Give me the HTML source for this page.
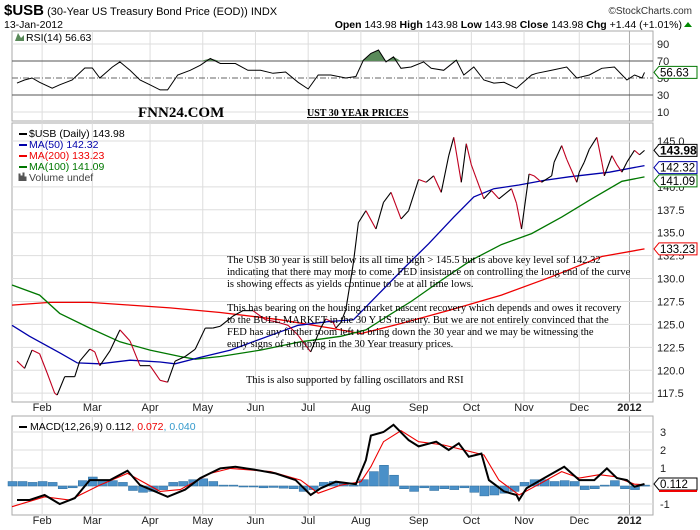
<!DOCTYPE html>
<html><head><meta charset="utf-8"><style>
body{margin:0;background:#fff;width:700px;height:530px;overflow:hidden}
svg{display:block;font-family:"Liberation Sans",sans-serif}
</style></head><body>
<svg id="chart" width="700" height="530">
<g>
<text x="4" y="15" font-size="15" font-weight="bold">$USB<tspan font-size="11" font-weight="normal"> (30-Year US Treasury Bond Price (EOD)) INDX</tspan></text>
<text x="692" y="14" font-size="10" fill="#333" text-anchor="end">©StockCharts.com</text>
<text x="4" y="28" font-size="10.5">13-Jan-2012</text>
<text x="682" y="28" font-size="10.5" text-anchor="end"><tspan font-weight="bold">Open</tspan> 143.98 <tspan font-weight="bold">High</tspan> 143.98 <tspan font-weight="bold">Low</tspan> 143.98 <tspan font-weight="bold">Close</tspan> 143.98 <tspan font-weight="bold">Chg</tspan> +1.44 (+1.01%)</text>
<path d="M684,27 l4,-5 l4,5z" fill="#080"/>
</g>
<g id="grid"></g>
<g id="marks"></g>
<g font-family="'Liberation Serif',serif" fill="#000">
<text x="138" y="117" font-size="15" font-weight="bold">FNN24.COM</text>
<text x="307" y="116" font-size="10" font-weight="bold" text-decoration="underline">UST 30 YEAR PRICES</text>
<g font-size="10.5">
<text x="227" y="263">The USB 30 year is still below its all time high &gt; 145.5 but is above key level sof 142.32</text>
<text x="227" y="275">indicating that there may more to come.  FED insistance on controlling the long end of the curve</text>
<text x="227" y="287">is showing effects as yields continue to be at all time lows.</text>
<text x="227" y="311">This has bearing on the housing market nascent recovery which depends and owes it recovery</text>
<text x="227" y="323">to the BULL MARKET in the 30 Y US treasury. But we are not entirely convinced that the</text>
<text x="227" y="335">FED has any further room left to bring down the 30 year and we may be witnessing the</text>
<text x="227" y="347">early signs of a topping in the 30 Year treasury prices.</text>
<text x="246" y="383">This is also supported by falling oscillators and RSI</text>
</g></g>
</svg>
<script>
const priceIdx=[2,5,8,11,14,17,18,21,25,27,31,33,35,39,43,47,51,55,59,62,65,69,73,77,80,83,88,92,96,101,105,110,114,119,123,125,128,129,131,133,136,138,141,145,148,151,155,158,162,165,168,171,174,176,179,181,183,185,188,191,194,199,201,203,206,208,211,215,216,219,221,225,226,228,230,233,235,236,239,241,243,245,248,250,252];
const priceVal=[121.0,120.2,122.2,121.8,119.7,117.5,117.3,119.3,119.3,121.0,122.3,122.0,120.5,122.1,124.4,123.2,120.5,120.5,118.9,118.7,121.0,121.5,122.3,124.6,124.6,124.8,125.9,126.5,126.5,125.5,125.3,124.9,123.8,122.0,124.6,125.6,125.2,124.6,125.2,126.6,131.7,136.1,137.4,135.4,138.3,139.4,136.5,137.4,140.8,140.5,141.2,139.4,143.4,145.4,140.5,144.7,142.4,140.9,138.7,139.6,138.7,139.8,138.2,135.4,141.4,141.2,140.5,141.2,142.7,144.5,143.0,140.5,141.6,142.7,144.1,145.4,142.7,141.2,143.4,142.4,141.6,142.7,143.98,143.5,143.98];
const ma50Idx=[0,7,19,26,35,47,59,65,75,87,102,114,126,136,146,156,166,176,184,192,202,212,222,238,252];
const ma50Val=[124.9,123.7,121.9,120.8,120.7,121.1,120.9,120.7,121.4,122.2,123.7,124.9,125.3,125.5,128.3,131.1,133.8,136.7,138.9,139.8,140.2,140.7,141.1,141.6,142.32];
const ma100Idx=[0,11,19,31,43,55,67,73,83,99,115,131,141,149,159,171,183,195,207,219,231,243,252];
const ma100Val=[129.3,128.2,126.2,124.6,123.1,122.2,121.5,121.2,121.5,122.2,123.1,123.7,124.4,125.8,127.5,129.8,132.0,133.7,134.9,136.7,138.7,140.6,141.09];
const ma200Idx=[0,15,31,47,63,83,107,127,139,155,175,195,215,235,252];
const ma200Val=[127.1,127.4,127.4,127.1,126.8,126.3,125.5,124.6,124.0,125.1,126.6,128.2,130.2,132.4,133.23];
const rsiIdx=[2,5,8,11,16,19,24,29,32,35,40,43,47,51,55,59,62,66,71,75,79,83,89,94,99,104,109,114,118,122,127,133,137,140,143,146,149,152,155,159,164,167,172,177,180,184,188,192,196,201,207,209,215,221,225,230,235,240,245,248,251,252];
const rsiVal=[44,47.6,50,45,38,42,47.6,61.8,61.8,50,63,69,59,47.6,42,36,36,53.5,59,65,73,67,67,59,59,55.5,57,45,37,53.5,53.5,50,51.8,71,79,83,69,75,61.4,63,69,61.4,59,71,53.5,63,47.6,44,45,38,53.5,55.5,59,63,50,53.5,61.4,63,47.6,53.5,50,56.63];
const macdIdx=[2,7,13,19,25,31,39,46,51,57,62,69,75,83,89,97,105,113,119,123,129,137,141,143,148,152,158,162,169,174,178,182,187,190,196,201,202,205,212,220,226,232,237,241,245,248,252];
const macdVal=[-0.78,-0.78,-0.5,-1,-0.67,0.33,0.33,0.85,0.05,-0.3,-0.6,-0.2,0.44,0.98,1.07,0.9,0.7,0.33,-0.5,-0.13,0.24,0.1,1.44,2.8,3.0,3.4,2.55,2.2,2.46,2.0,2.37,1.63,1.8,0.33,-0.3,-0.5,-0.78,-0.13,0.44,1.07,0.33,0.33,0.98,0.44,0.33,-0.04,0.112];
const sigIdx=[0,13,23,35,46,59,67,79,87,103,115,122,131,139,143,148,155,162,172,180,188,194,202,210,219,226,234,240,248,252];
const sigVal=[-1.15,-0.6,-0.78,0.05,0.7,-0.3,-0.2,0.7,0.98,0.8,0.33,-0.4,0.05,0.24,1.07,2.46,3.07,2.46,2.28,2.0,1.72,0.33,-0.5,0.1,0.8,0.44,0.63,0.52,0.1,0.072];
const histVal=[.25,.25,.2,.25,.2,-.15,-.1,.3,.5,.35,.3,.2,-.25,-.35,-.3,-.2,.2,.25,.35,.4,.25,.05,.05,0,-.05,-.1,-.08,-.12,-.15,-.3,-.2,.2,.25,.15,.05,.35,.8,1.15,.6,-.15,-.3,-.1,-.25,-.15,-.2,-.1,-.35,-.55,-.5,-.4,-.3,.2,.35,.35,.25,.3,.25,-.2,-.15,.05,.3,-.15,-.2,.05];
const monthLabels=["Feb","Mar","Apr","May","Jun","Jul","Aug","Sep","Oct","Nov","Dec","2012"];
const monthIdx=[12,32,55,76,97,118,139,162,183,204,226,246];
const priceTicks=[145.0,140.0,137.5,135.0,132.5,130.0,127.5,125.0,122.5,120.0,117.5];
const rsiTicks=[90,70,50,30,10];
const macdTicks=[3,2,1,-1];

const NS="http://www.w3.org/2000/svg";
const L=12,R=653;
const X=i=>L+i*2.51;
const P={top:123,bot:402},RS={top:31,bot:121},M={top:416,bot:515};
const yP=v=>141+(145-v)*9.17;
const yR=v=>78-(v-50)*0.85;
const yM=v=>486-v*18;
const grid=document.getElementById('grid'),marks=document.getElementById('marks');
function el(tag,at,parent){const e=document.createElementNS(NS,tag);for(const k in at)e.setAttribute(k,at[k]);(parent||marks).appendChild(e);return e;}
function poly(idx,val,y,color,w,name){const pts=idx.map((d,i)=>X(d).toFixed(1)+','+y(val[i]).toFixed(1)).join(' ');const e=el('polyline',{points:pts,fill:'none',stroke:color,'stroke-width':w});

return e;}
// panels
[[RS,'rsi-panel'],[P,'price-panel'],[M,'macd-panel']].forEach(([p,n])=>{
 const r=el('rect',{x:L,y:p.top,width:R-L,height:p.bot-p.top,fill:'#fff',stroke:'#aaa'},grid);
 
 
 monthIdx.forEach((m,i)=>{const l=el('line',{x1:X(m),x2:X(m),y1:p.top,y2:p.bot,stroke:i==11?'#aaa':'#ddd'},grid);
 
 });
});
priceTicks.forEach(t=>{const l=el('line',{x1:L,x2:R,y1:yP(t),y2:yP(t),stroke:'#ddd'},grid);
 
 
 const tx=el('text',{x:657,y:yP(t)+4,'font-size':11,fill:'#222'},grid);tx.textContent=t.toFixed(1);
 
 });
rsiTicks.forEach(t=>{const ref=t==70||t==30;const l=el('line',{x1:L,x2:R,y1:yR(t),y2:yR(t),stroke:ref?'#555':(t==50?'#666':'#ddd'),'stroke-dasharray':t==50?'6,2,1,2':'none'},grid);
 
 
 const tx=el('text',{x:657,y:yR(t)+4,'font-size':11,fill:'#222'},grid);tx.textContent=t;
 
 });
macdTicks.concat([0]).forEach(t=>{const l=el('line',{x1:L,x2:R,y1:yM(t),y2:yM(t),stroke:'#ddd'},grid);
 
 
 if(t!==0){const tx=el('text',{x:660,y:yM(t)+4,'font-size':11,fill:'#222'},grid);tx.textContent=t;
 
 }});
[411,524].forEach(y=>monthLabels.forEach((m,i)=>{const tx=el('text',{x:X(monthIdx[i]),y:y,'font-size':11,'text-anchor':'middle','font-weight':i==11?'bold':'normal',fill:'#222'},grid);tx.textContent=m;
 
 }));
// RSI
const rl=poly(rsiIdx,rsiVal,yR,'#000',1,'rsi-line');
// RSI overbought fill
(function(){let seg=[];for(let i=0;i<rsiIdx.length;i++){ if(rsiVal[i]>70){seg.push(i);} }
 if(seg.length){const a=seg[0]-1,b=seg[seg.length-1]+1;let pts=X(rsiIdx[a])+','+yR(70);for(let i=a;i<=b;i++)pts+=' '+X(rsiIdx[i])+','+yR(Math.max(70,rsiVal[i]));pts+=' '+X(rsiIdx[b])+','+yR(70);
 const f=el('polygon',{points:pts,fill:'#5a8a5a',stroke:'none'});
 
 marks.appendChild(rl);}})();
// MAs
poly(ma200Idx,ma200Val,yP,'#e00',1.3,'ma200-line');
poly(ma100Idx,ma100Val,yP,'#070',1.3,'ma100-line');
poly(ma50Idx,ma50Val,yP,'#00a',1.3,'ma50-line');
// price segments
for(let i=1;i<priceIdx.length;i++){const up=priceVal[i]>=priceVal[i-1];
 const s=el('line',{x1:X(priceIdx[i-1]),y1:yP(priceVal[i-1]),x2:X(priceIdx[i]),y2:yP(priceVal[i]),stroke:up?'#000':'#c00020','stroke-width':1.1});
 
 }
// MACD histogram
histVal.forEach((v,i)=>{const x=X(i*4);const y0=yM(0),y1=yM(v);
 const b=el('rect',{x:x-4,y:Math.min(y0,y1),width:9,height:Math.max(1,Math.abs(y1-y0)),fill:'#4a90c8',stroke:'#2a6a9a','stroke-width':0.5});
 
 });
poly(sigIdx,sigVal,yM,'#e00',1.1,'macd-signal-line');
poly(macdIdx,macdVal,yM,'#000',2,'macd-line');
// legends
function txt(x,y,s,c,name,extra){const t=el('text',Object.assign({x:x,y:y,'font-size':10.5,fill:c},extra||{}));t.textContent=s;
 
 return t;}
txt(26,41,'RSI(14) 56.63','#000','rsi-legend');
el('path',{d:'M15,41 l3,-8 l3,5 l3,-3 v6z',fill:'#5a8a5a'});
[['$USB (Daily) 143.98','#000',137],['MA(50) 142.32','#00a',148],['MA(200) 133.23','#e00',159],['MA(100) 141.09','#070',170]].forEach(([s,c,y],i)=>{
 el('rect',{x:19,y:y-4,width:8,height:2,fill:c});txt(29,y,s,c,'price-legend-entry');});
txt(29,181,'Volume undef','#444','volume-legend');
el('path',{d:'M19,181 v-7 h1 v7 M21,181 v-5 h1 v5 M23,181 v-8 h1 v8 M25,181 v-4 h1 v4',stroke:'#555','stroke-width':1});
el('rect',{x:19,y:426,width:8,height:2,fill:'#000'});
const ml=txt(30,430,'MACD(12,26,9) 0.112','#000','macd-legend');
const t2=el('tspan',{fill:'#e00'},ml);t2.textContent=', 0.072';
const t3=el('tspan',{fill:'#39c'},ml);t3.textContent=', 0.040';
// value tags
function tag(y,s,c,bold,name){const g=el('g',{});
 
 el('path',{d:`M654,${y} l5,-6 h38 v12 h-38z`,fill:'#fff',stroke:c},g);
 const t=el('text',{x:660,y:y+4,'font-size':bold?12:11.5,'font-weight':bold?'bold':'normal',fill:'#000'},g);t.textContent=s;}
tag(yP(143.98),'143.98','#000',true,'last-price-tag');
tag(yP(142.32)+2,'142.32','#00a',false,'ma50-tag');
tag(yP(141.09)+4,'141.09','#070',false,'ma100-tag');
tag(yP(133.23),'133.23','#e00',false,'ma200-tag');
tag(yR(56.63),'56.63','#070',false,'rsi-tag');
tag(yM(0.112),'0.112','#000',false,'macd-tag');
el('rect',{x:659,y:yM(0.112)+6,width:38,height:2,fill:'#e00'});
</script>
</body></html>
